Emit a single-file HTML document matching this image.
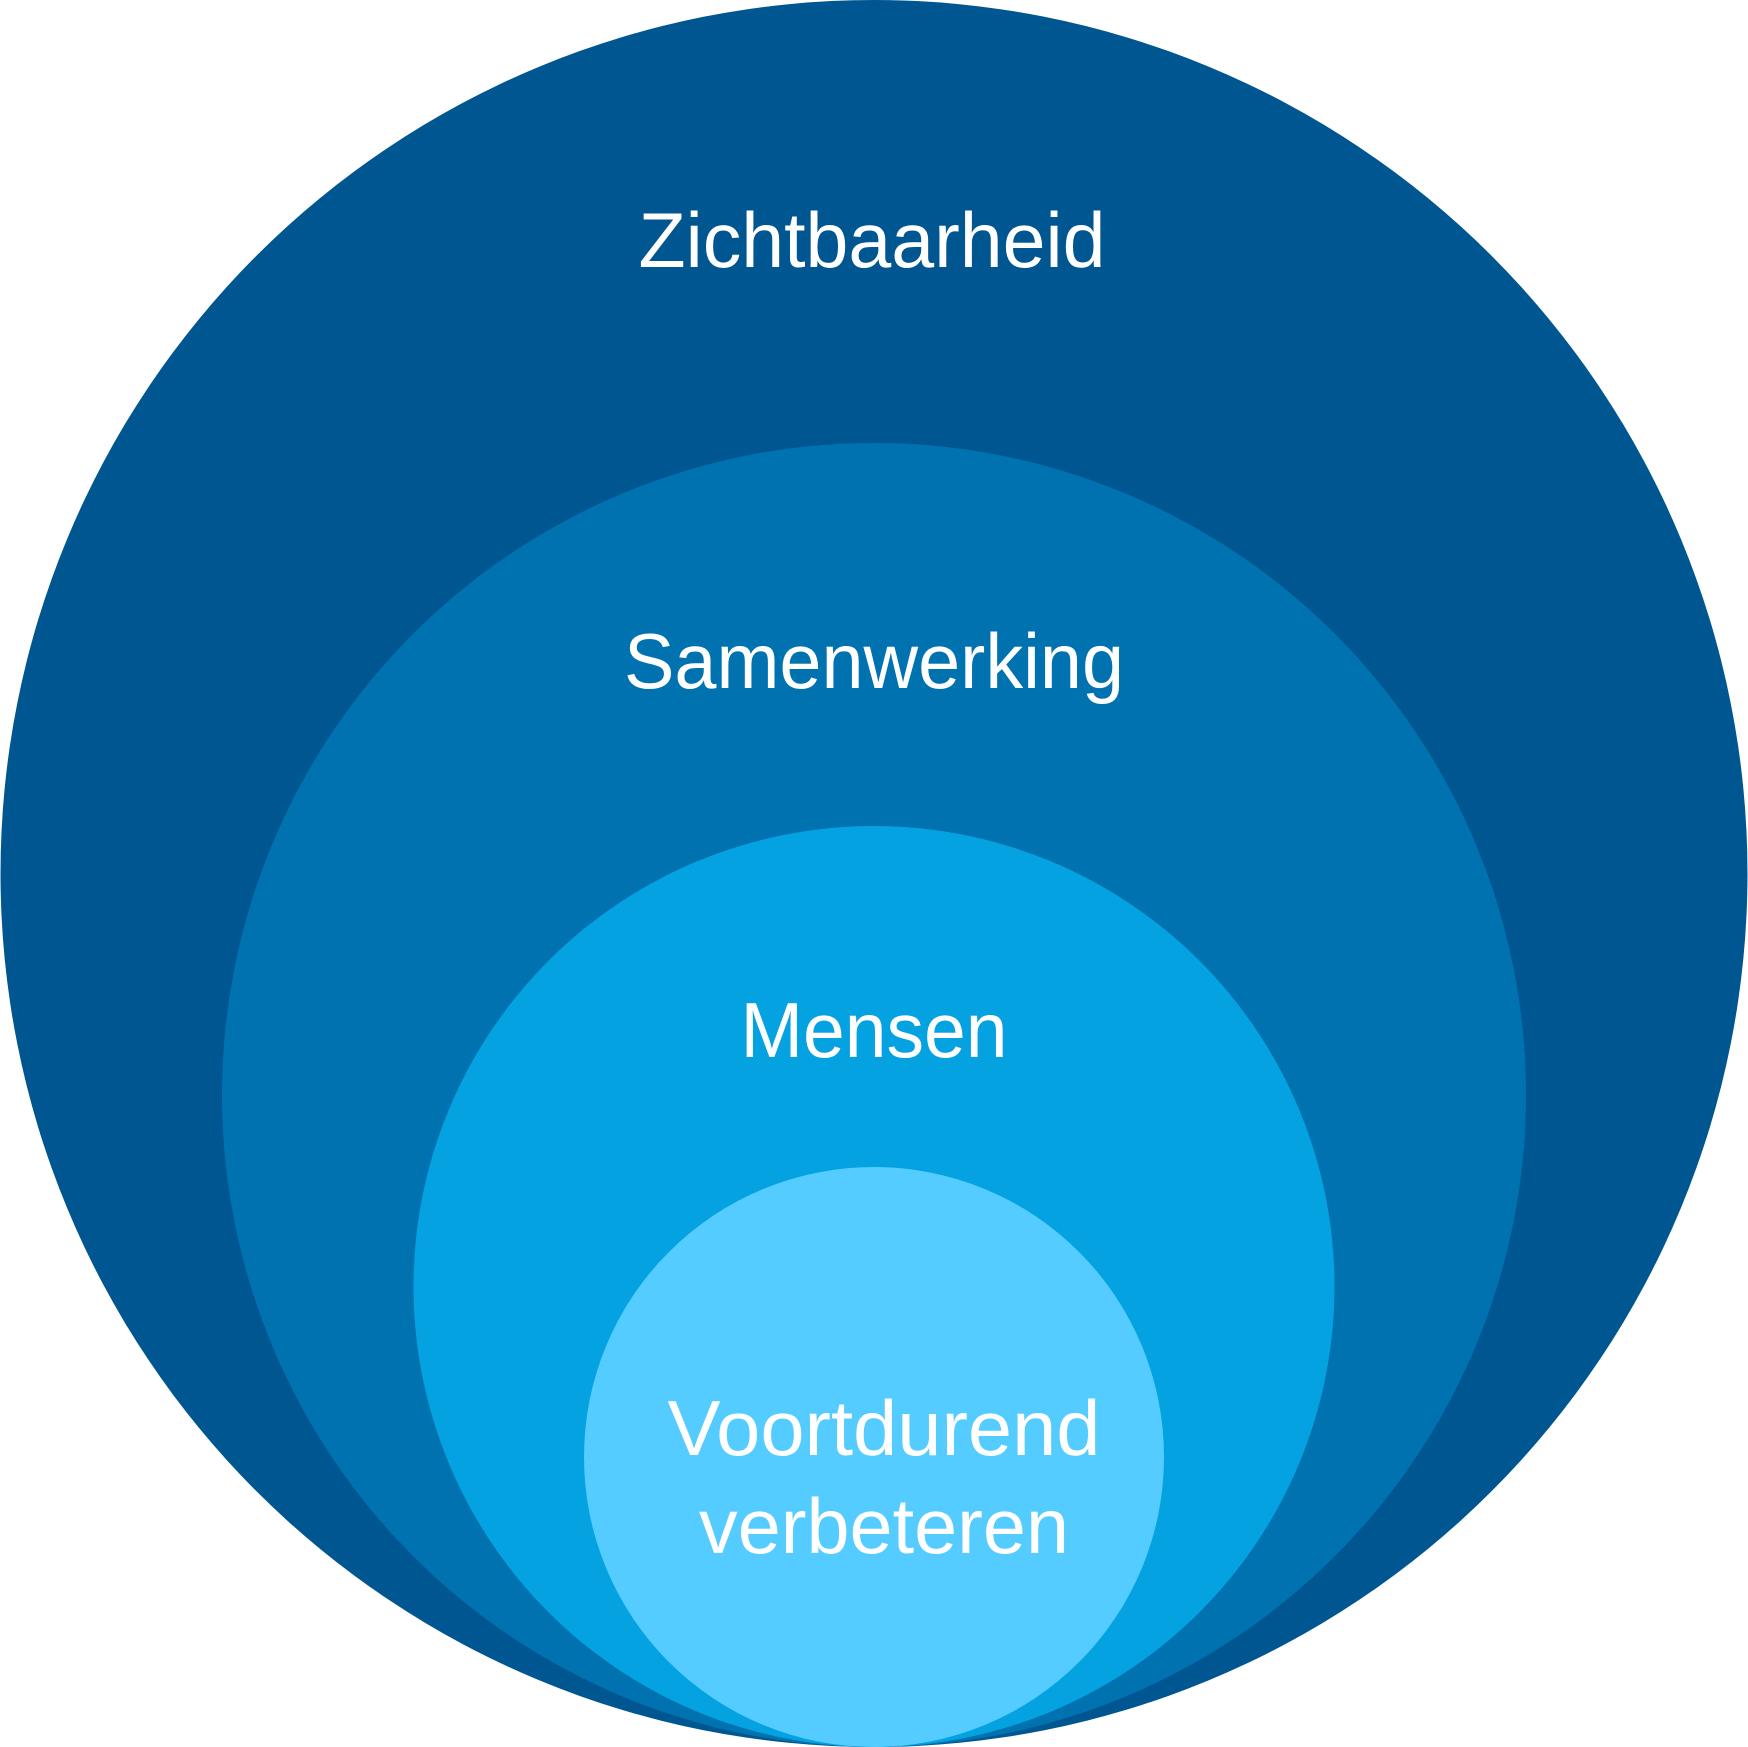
<!DOCTYPE html>
<html><head><style>
html,body{margin:0;padding:0;background:#fff;}
svg{display:block;}
text{font-family:"Liberation Sans","DejaVu Sans",sans-serif;fill:#fff;font-size:78px;text-anchor:middle;}
</style></head><body>
<svg width="1748" height="1747" viewBox="0 0 1748 1747">
<circle cx="874" cy="873.5" r="873.5" fill="#005691"/>
<circle cx="874" cy="1095" r="652" fill="#0072B0"/>
<circle cx="874" cy="1286.5" r="460.5" fill="#05A2E2"/>
<circle cx="874" cy="1457" r="290" fill="#55CCFF"/>
<text x="872" y="267" textLength="467" lengthAdjust="spacingAndGlyphs">Zichtbaarheid</text>
<text x="874" y="688" textLength="500" lengthAdjust="spacingAndGlyphs">Samenwerking</text>
<text x="874" y="1057" textLength="267" lengthAdjust="spacingAndGlyphs">Mensen</text>
<text x="884" y="1455" textLength="433" lengthAdjust="spacingAndGlyphs">Voortdurend</text>
<text x="884" y="1553" textLength="370" lengthAdjust="spacingAndGlyphs">verbeteren</text>
</svg>
</body></html>
